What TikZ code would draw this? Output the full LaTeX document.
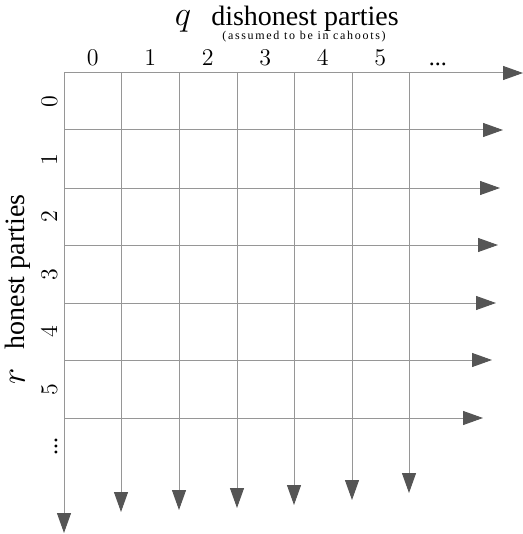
\documentclass[tikz,border=0pt]{standalone}
\usepackage{fontspec}
\setmainfont{Liberation Serif}
\usetikzlibrary{arrows.meta}
\definecolor{gridgray}{HTML}{969696}
\definecolor{tipgray}{HTML}{555555}

\begin{document}
\begin{tikzpicture}[x=0.5pt, y=-0.5pt,
    gridline/.style={draw=gridgray, line width=0.5pt, -{Triangle[length=10pt, width=7pt, color=tipgray]}},
    numlabel/.style={anchor=base, font=\fontsize{12}{13}\selectfont},
    titlelabel/.style={anchor=base, font=\fontsize{14}{16}\selectfont}]
    \useasboundingbox (0, 0) rectangle (523, 534);

    % rows
    \foreach \i/\y/\e in {0/73/523, 1/130/503, 2/188/500, 3/245/498, 4/303/496, 5/360/492, 6/418/483} {
        \coordinate (row\i) at (64, \y);
        \coordinate (rowend\i) at (\e, \y);
        \draw[gridline] (row\i) -- (rowend\i);
    }
    % columns
    \foreach \j/\x/\e in {0/64/533, 1/121/512, 2/179/510, 3/237/508, 4/294/505, 5/352/500, 6/409/493} {
        \coordinate (col\j) at (\x, 73);
        \coordinate (colend\j) at (\x, \e);
        \draw[gridline] (col\j) -- (colend\j);
    }

    % numbers
    \foreach \k in {0, ..., 5} {
        \node[numlabel] (qnum\k) at (92.75 + 57.5*\k, 66) {$\k$};
        \node[numlabel, rotate=90] (rnum\k) at (57, 101.75 + 57.5*\k) {$\k$};
    }
    \node[numlabel] (qdots) at (437.75, 66) {...};
    \node[numlabel, rotate=90] (rdots) at (57, 446.75) {...};

    % titles
    \node[titlelabel, font=\fontsize{16}{18}\selectfont] (qvar) at (183, 26) {$q$};
    \node[titlelabel] (qtitle) at (305, 26) {dishonest parties};
    \node[anchor=base, font=\fontsize{6}{7}\selectfont\addfontfeature{LetterSpace=14}] (qnote) at (304, 40) {(assumed to be in cahoots)};
    \node[titlelabel, font=\fontsize{16}{18}\selectfont, rotate=90] (rvar) at (25, 376) {$r$};
    \node[titlelabel, rotate=90] (rtitle) at (25, 272) {honest parties};
\end{tikzpicture}
\end{document}
